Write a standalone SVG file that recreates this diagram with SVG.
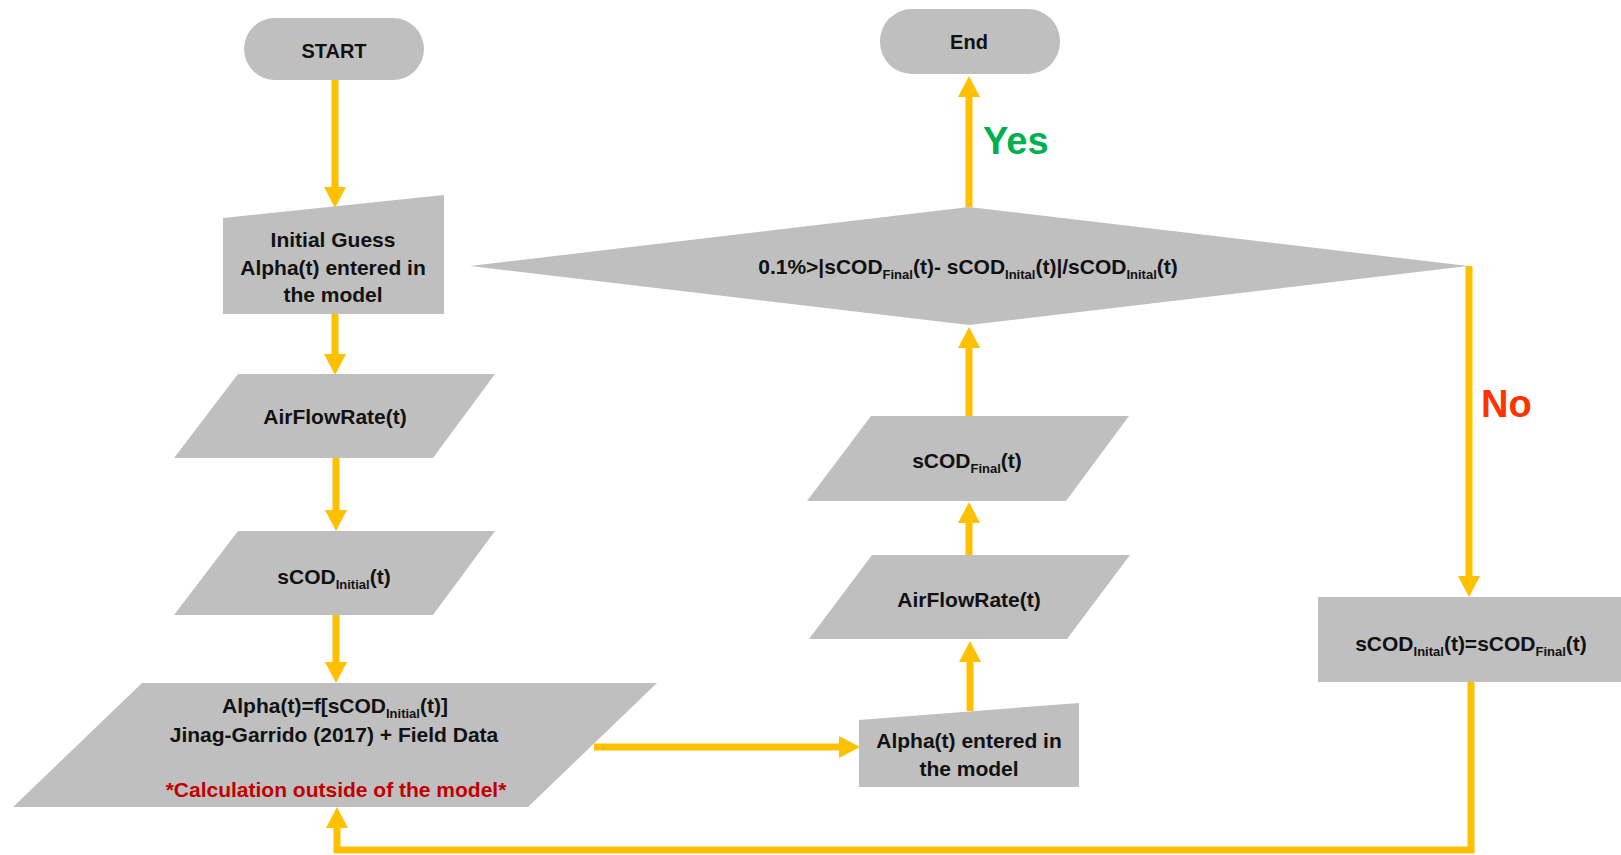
<svg xmlns="http://www.w3.org/2000/svg" width="1621" height="855" viewBox="0 0 1621 855">
<style>
.shape{fill:#BFBFBF;}
.t{font-family:"Liberation Sans",Arial,sans-serif;font-weight:bold;font-size:21px;fill:#111;text-anchor:middle;}
.term{font-size:20px;}
.sub{font-size:13px;}
.red{fill:#C00000;}
.lbl{font-family:"Liberation Sans",Arial,sans-serif;font-weight:bold;font-size:38px;}
.conn{fill:none;stroke:#FFC000;stroke-width:7;stroke-linejoin:miter;marker-end:url(#ah);}
</style>
<defs>
<marker id="ah" markerUnits="userSpaceOnUse" markerWidth="21" markerHeight="22" refX="0" refY="11" orient="auto" viewBox="0 0 21 22">
<path d="M0,0 L21,11 L0,22 z" fill="#FFC000"/>
</marker>
</defs>
<rect width="1621" height="855" fill="#fff"/>

<g id="connectors">
<path class="conn" d="M335,80 V187"/>
<path class="conn" d="M335,314 V354"/>
<path class="conn" d="M336,458 V510"/>
<path class="conn" d="M336,615 V662"/>
<path class="conn" d="M594,747 H839"/>
<path class="conn" d="M970,711 V662"/>
<path class="conn" d="M969,555 V523"/>
<path class="conn" d="M969,416 V348"/>
<path class="conn" d="M969,207 V97"/>
<path class="conn" d="M1469,266 V576"/>
<path class="conn" d="M1471,682 V850 H337 V828"/>
</g>

<g id="start">
<rect class="shape" x="244" y="18" width="180" height="62" rx="31"/>
<text class="t term" x="334" y="58">START</text>
</g>

<g id="end">
<rect class="shape" x="880" y="9" width="180" height="65" rx="32"/>
<text class="t term" x="969" y="49">End</text>
</g>

<g id="initial-guess">
<polygon class="shape" points="223,218 444,195 444,314 223,314"/>
<text class="t" x="333" y="247">Initial Guess</text>
<text class="t" x="333" y="275">Alpha(t) entered in</text>
<text class="t" x="333" y="302">the model</text>
</g>

<g id="airflow1">
<polygon class="shape" points="238,374 495,374 433,458 174,458"/>
<text class="t" x="335" y="424">AirFlowRate(t)</text>
</g>

<g id="scod-initial">
<polygon class="shape" points="238,531 495,531 433,615 174,615"/>
<text class="t" x="334" y="584">sCOD<tspan class="sub" dy="5">Initial</tspan><tspan dy="-5">(t)</tspan></text>
</g>

<g id="alpha-calc">
<polygon class="shape" points="142,683 657,683 528,807 13,807"/>
<text class="t" x="335" y="713">Alpha(t)=f[sCOD<tspan class="sub" dy="5">Initial</tspan><tspan dy="-5">(t)]</tspan></text>
<text class="t" x="334" y="742">Jinag-Garrido (2017) + Field Data</text>
<text class="t red" x="336" y="797">*Calculation outside of the model*</text>
</g>

<g id="alpha-entered">
<polygon class="shape" points="859,720 1079,703 1079,787 859,787"/>
<text class="t" x="969" y="748">Alpha(t) entered in</text>
<text class="t" x="969" y="776">the model</text>
</g>

<g id="airflow2">
<polygon class="shape" points="872,555 1130,555 1067,639 809,639"/>
<text class="t" x="969" y="607">AirFlowRate(t)</text>
</g>

<g id="scod-final">
<polygon class="shape" points="871,416 1129,416 1066,501 807,501"/>
<text class="t" x="967" y="468">sCOD<tspan class="sub" dy="5">Final</tspan><tspan dy="-5">(t)</tspan></text>
</g>

<g id="decision">
<polygon class="shape" points="470,266 969,207 1468,266 969,325"/>
<text class="t" x="968" y="274">0.1%&gt;|sCOD<tspan class="sub" dy="5">Final</tspan><tspan dy="-5">(t)- sCOD</tspan><tspan class="sub" dy="5">Inital</tspan><tspan dy="-5">(t)|/sCOD</tspan><tspan class="sub" dy="5">Inital</tspan><tspan dy="-5">(t)</tspan></text>
</g>

<g id="update">
<rect class="shape" x="1318" y="597" width="303" height="85"/>
<text class="t" x="1471" y="651">sCOD<tspan class="sub" dy="5">Inital</tspan><tspan dy="-5">(t)=sCOD</tspan><tspan class="sub" dy="5">Final</tspan><tspan dy="-5">(t)</tspan></text>
</g>

<g id="labels">
<text class="lbl" x="983" y="154" fill="#00B050">Yes</text>
<text class="lbl" x="1481" y="417" fill="#FF3300">No</text>
</g>
</svg>
